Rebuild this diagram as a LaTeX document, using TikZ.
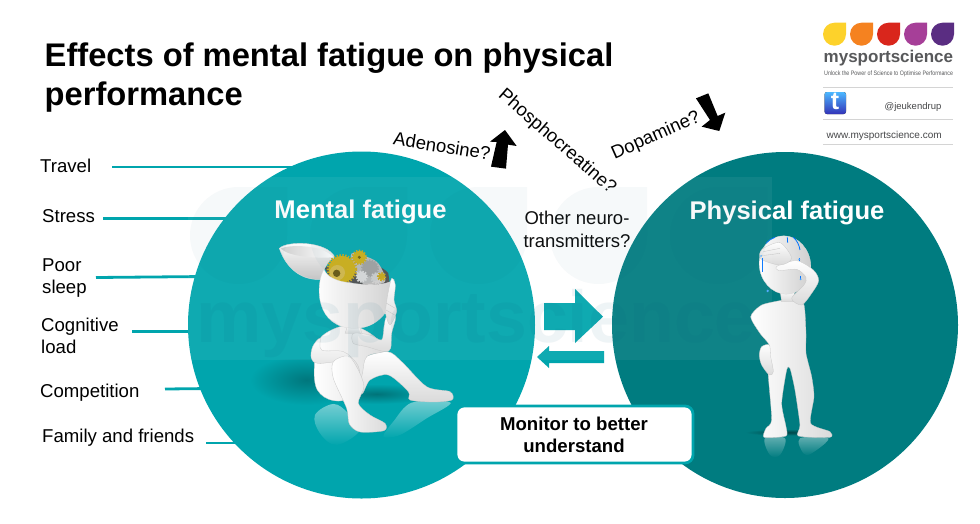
\documentclass[tikz,border=0pt]{standalone}
\usepackage{fontspec}
\usepackage{graphicx}
\setmainfont{Liberation Sans}
\definecolor{tealL}{HTML}{00A5AD}
\definecolor{tealR}{HTML}{007C80}
\definecolor{wm}{HTML}{005A78}
\definecolor{logogray}{HTML}{58595B}
\definecolor{rulegray}{HTML}{D4D4D4}
\definecolor{gold}{HTML}{C9A515}
\definecolor{skin}{HTML}{DADADA}
\newcommand{\fsz}[1]{\fontsize{#1}{#1}\selectfont}
\newcommand{\dropat}[3]{(#1+#3,#2) -- (#1+#3,#2+#3/2) arc[start angle=0,end angle=270,radius={#3/2}] -- cycle}
\tikzset{
  lab/.style={anchor=base west,inner sep=0pt,font=\fsz{18.6},text=black},
  qlab/.style={inner sep=0pt,font=\fsz{18.5},text=black},
  heading/.style={anchor=base,inner sep=0pt,font=\fsz{25.6}\bfseries,text=white},
  titletext/.style={anchor=base west,inner sep=0pt,font=\fsz{32.7}\bfseries},
  feeder/.style={draw=tealL,line width=2.8pt},
  fig/.style={top color=white,bottom color=skin,draw=skin!80!gray,line width=.3pt},
  figside/.style={left color=white,right color=skin,draw=skin!80!gray,line width=.3pt},
  rulel/.style={draw=rulegray,line width=1pt},
  gear/.style={line width=2pt,dash pattern=on 1.4pt off 1.4pt},
  reflL/.style={top color=tealL!55!white,bottom color=tealL},
  reflR/.style={top color=tealR!60!white,bottom color=tealR},
}
\begin{document}
\begin{tikzpicture}[x=1pt,y=-1pt]
\useasboundingbox (0,0) rectangle (980,523);
\fill[white] (0,0) rectangle (980,523);

% feeder lines
\coordinate (tA) at (112,167); \coordinate (tB) at (300,167);
\coordinate (sA) at (103,218.5); \coordinate (sB) at (240,218.5);
\coordinate (pA) at (96,277.5); \coordinate (pB) at (205,276.5);
\coordinate (cA) at (132,331.5); \coordinate (cB) at (200,331.5);
\coordinate (oA) at (165,389); \coordinate (oB) at (210,388.5);
\coordinate (fA) at (206,443); \coordinate (fB) at (250,443);
\foreach \a/\b in {tA/tB,sA/sB,pA/pB,cA/cB,oA/oB,fA/fB} \draw[feeder] (\a) -- (\b);

% circles
\node[circle,fill=tealL,minimum size=347pt,inner sep=0pt] (mental) at (361.5,325) {};
\node[circle,fill=tealR,minimum size=346pt,inner sep=0pt] (physical) at (785,325) {};

% left figure
\begin{scope}[shift={(220,170)},x=.3333pt,y=-.3333pt]
  % floor shadow and reflection
  \begin{scope}
    \clip (60,570) rectangle (720,830);
    \shade[inner color=black!28!tealL,outer color=tealL] (260,630) ellipse (170 and 75);
  \end{scope}
  \shade[inner color=black!30!tealL,outer color=tealL] (470,672) ellipse (170 and 30);
  \path[reflL] plot[smooth cycle,tension=.6] coordinates {(285,735) (340,702) (385,730) (420,780) (350,825) (300,790)};
  \path[reflL] plot[smooth cycle,tension=.5] coordinates {(575,698) (692,698) (620,745) (540,795) (490,800) (520,755)};
  % far leg
  \path[fig] plot[smooth cycle,tension=.5] coordinates {(415,575) (500,545) (545,575) (620,650) (690,665) (696,690) (640,696) (570,690) (565,665) (505,615) (450,630) (425,670)};
  % torso
  \path[figside] plot[smooth cycle,tension=.6] coordinates {(300,505) (380,466) (450,490) (495,540) (440,560) (425,620) (400,680) (340,692) (292,660) (283,590)};
  % neck
  \path[fig] (385,462) -- (420,468) -- (425,490) -- (375,490) -- cycle;
  % raised arm
  \path[fig] plot[smooth cycle,tension=.5] coordinates {(400,490) (450,495) (485,510) (492,470) (500,440) (527,440) (515,490) (512,535) (495,545) (440,530) (400,520)};
  % arm round the knee
  \path[fig] plot[smooth cycle,tension=.6] coordinates {(300,505) (305,540) (370,545) (410,580) (418,610) (398,600) (370,575) (295,580) (274,565) (278,530)};
  % near leg
  \path[figside] plot[smooth cycle,tension=.5] coordinates {(340,575) (385,558) (415,600) (432,650) (415,700) (450,735) (495,760) (492,782) (420,786) (388,762) (380,715) (340,625)};
  % head lid
  \path[top color=white,bottom color=skin!70!gray,draw=skin] (178,235) .. controls (200,212) and (320,212) .. (345,262) .. controls (320,275) and (310,300) .. (302,328) .. controls (250,332) and (200,300) .. (178,235) -- cycle;
  \path[left color=skin!85!gray,right color=white] (182,236) .. controls (210,222) and (310,225) .. (340,262) .. controls (280,265) and (210,260) .. (182,236) -- cycle;
  % contents of the head
  \fill[black!70] (315,295) .. controls (340,265) and (470,265) .. (505,310) -- (510,345) -- (340,345) -- cycle;
  \fill[gray!55] plot[smooth cycle] coordinates {(395,250) (470,275) (495,335) (430,342) (405,300)};
  \foreach \gx/\gy/\gr/\gc in {450/295/24/gray!75,470/325/16/gray!40,425/320/16/gray!30}{
    \draw[\gc,gear] (\gx,\gy) circle (\gr);
    \fill[\gc] (\gx,\gy) circle ({\gr-1});
  }
  \draw[gold,gear] (418,262) circle (20);
  \fill[gold!90!yellow] (418,262) circle (19);
  \fill[gold!55!black] (418,262) circle (5);
  \draw[gold,gear,line width=3.2pt] (366,298) circle (41);
  \fill[gold!90!yellow] (366,298) circle (40);
  \fill[gold!80!white] (352,308) circle (23);
  \fill[gold!50!black] (350,310) circle (11);
  \draw[gold,gear] (485,320) circle (11);
  \fill[gold] (485,320) circle (10);
  % head
  \path[left color=white,right color=skin!85!gray,draw=skin,line width=.3pt] (312,298) .. controls (285,345) and (285,475) .. (405,475) .. controls (490,475) and (530,390) .. (522,328) .. controls (500,350) and (420,345) .. (390,338) .. controls (350,335) and (320,320) .. (312,298) -- cycle;
  % hand at the head
  \path[fig] plot[smooth cycle,tension=.5] coordinates {(515,325) (526,345) (522,390) (530,425) (510,465) (497,430) (500,395) (505,365)};
  \draw[gray!50,line width=.3pt] (500,400) -- (526,415) (498,420) -- (524,435);
\end{scope}

% right figure
\begin{scope}[shift={(680,190)},x=.3333pt,y=-.3333pt]
  \shade[inner color=black!45!tealR,outer color=tealR] (320,727) ellipse (125 and 10);
  \path[reflR] plot[smooth cycle,tension=.6] coordinates {(255,745) (315,745) (300,795) (270,795)};
  \path[reflR] plot[smooth cycle,tension=.6] coordinates {(360,745) (445,745) (395,790) (370,790)};
  % body and legs
  \path[figside] plot[smooth cycle,tension=.4] coordinates {(245,345) (310,330) (345,325) (372,345) (378,430) (378,490) (395,560) (402,620) (392,700) (450,725) (450,742) (355,738) (360,705) (345,600) (330,535) (320,540) (305,640) (318,710) (318,738) (252,742) (258,715) (275,690) (265,560) (262,500) (268,465) (240,430) (212,380)};
  % hand on the hip
  \path[fig] plot[smooth cycle,tension=.5] coordinates {(245,470) (268,465) (272,500) (280,545) (268,555) (245,525) (238,495)};
  % neck and head
  \path[fig] (300,300) -- (345,300) -- (340,335) -- (305,335) -- cycle;
  \path[left color=white,right color=skin!85!gray,draw=skin,line width=.3pt,rotate around={12:(315,225)}] (315,225) ellipse (77 and 88);
  % raised arm
  \path[fig] plot[smooth cycle,tension=.5] coordinates {(292,228) (350,212) (400,240) (416,272) (395,310) (365,345) (335,325) (372,285) (378,262) (350,238) (296,242)};
  % hand
  \path[fig] plot[smooth cycle,tension=.5] coordinates {(246,178) (300,158) (335,205) (300,225) (243,207)};
  \draw[gray!50,line width=.3pt] (250,185) -- (300,175) (247,197) -- (300,190);
  % sweat
  \draw[blue!55!cyan,line width=.8pt] (258,160) .. controls (268,150) and (275,145) .. (285,142);
  \draw[blue!55!cyan,line width=.8pt] (322,142) -- (323,158);
  \draw[blue!55!cyan,line width=.8pt] (340,142) .. controls (350,150) and (358,165) .. (360,180);
  \draw[blue!55!cyan,line width=.8pt] (247,205) -- (247,245) (358,205) -- (358,212) (362,258) -- (362,270);
  \fill[blue!50!cyan!70] (263,303) circle (4) (362,268) circle (3) (358,208) circle (3) (243,198) circle (3);
\end{scope}

% logo
\foreach \x/\c in {823/FDD22B,850/F58220,877/D9261C,904/A63F98,931/5A2D82}{
  \definecolor{dropc}{HTML}{\c}
  \fill[dropc] \dropat{\x}{22.7}{23};
}
\node[anchor=base west,inner sep=0pt,font=\fsz{17}\bfseries,text=logogray] (logoname) at (823.5,62) {mysportscience};
\node[anchor=base west,inner sep=0pt,font=\fsz{6.4},text=logogray] (logotag) at (824,75) {\scalebox{.835}[1]{Unlock the Power of Science to Optimise Performance}};
\coordinate (r1a) at (823,87); \coordinate (r1b) at (953,87);
\coordinate (r2a) at (823,119); \coordinate (r2b) at (953,119);
\coordinate (r3a) at (823,144); \coordinate (r3b) at (953,144);
\foreach \a/\b in {r1a/r1b,r2a/r2b,r3a/r3b} \draw[rulel] (\a) -- (\b);
\fill[rounded corners=2.5pt,top color=cyan!60!blue!70,bottom color=blue!65!black!80] (824.5,92) rectangle (846,114);
\node[inner sep=0pt,font=\fsz{25}\bfseries,text=white] (twittert) at (835,101.5) {t};
\node[inner sep=0pt,font=\fsz{9.5},text=logogray!80!black] (handle) at (913,107) {@jeukendrup};
\node[anchor=west,inner sep=0pt,font=\fsz{10},text=logogray!80!black] (site) at (826.5,136) {www.mysportscience.com};

% title
\node[titletext] (title1) at (44.5,66) {Effects of mental fatigue on physical};
\node[titletext] (title2) at (44.5,105) {performance};

% left labels
\node[lab] (travel) at (40,172) {Travel};
\node[lab] (stress) at (42,222) {Stress};
\node[lab] (poor) at (42,271) {Poor};
\node[lab] (sleep) at (42,293) {sleep};
\node[lab] (cognitive) at (41,331) {Cognitive};
\node[lab] (load) at (41,353) {load};
\node[lab] (competition) at (40,397) {Competition};
\node[lab] (family) at (42,442) {Family and friends};

% headings
\node[heading] (mentalT) at (360.5,218.5) {Mental fatigue};
\node[heading] (physicalT) at (787,219) {Physical fatigue};

% question labels, black arrows
\node[qlab,rotate=-9] (adeno) at (442,146) {Adenosine?};
\node[qlab,rotate=-41] (phospho) at (557,142) {Phosphocreatine?};
\node[qlab,rotate=24] (dopa) at (656,136) {Dopamine?};
\node[qlab,anchor=base] (other1) at (577,224) {Other neuro-};
\node[qlab,anchor=base] (other2) at (577,247) {transmitters?};
\begin{scope}[shift={(380,80)},x=.3333pt,y=-.3333pt]
  \fill[black] (375,150) -- (410,198) -- (384,194) -- (378,266) -- (333,260) -- (350,186) -- (330,185) -- cycle;
  \fill[black] (948,55) -- (985,40) -- (1013,108) -- (1036,98) -- (1018,153) -- (965,140) -- (990,120) -- cycle;
\end{scope}

% teal arrows
\fill[tealL] (544,303) -- (575,303) -- (575,289) -- (603,316.7) -- (575,343) -- (575,330) -- (544,330) -- cycle;
\fill[tealL] (604,351) -- (549,351) -- (549,346) -- (537,357) -- (549,368) -- (549,363) -- (604,363) -- cycle;

% monitor box
\node[draw=tealL,fill=white,line width=2.8pt,rounded corners=8pt,minimum width=237pt,minimum height=57pt,inner sep=0pt] (monitor) at (574.5,434.5) {};
\node[anchor=base,inner sep=0pt,font=\fsz{18.6}\bfseries] (mon1) at (574,430) {Monitor to better};
\node[anchor=base,inner sep=0pt,font=\fsz{18.6}\bfseries] (mon2) at (574,452) {understand};

% watermark
\fill[white,opacity=.06] (188,177) rectangle (772,360);
\foreach \x in {190,310,430,550,670}{
  \fill[wm,opacity=.035] \dropat{\x}{187}{97};
}
\node[anchor=base west,inner sep=0pt,font=\fsz{73.5}\bfseries,text=wm,text opacity=.065] (wmark) at (196,342) {mysportscience};
\end{tikzpicture}
\end{document}
